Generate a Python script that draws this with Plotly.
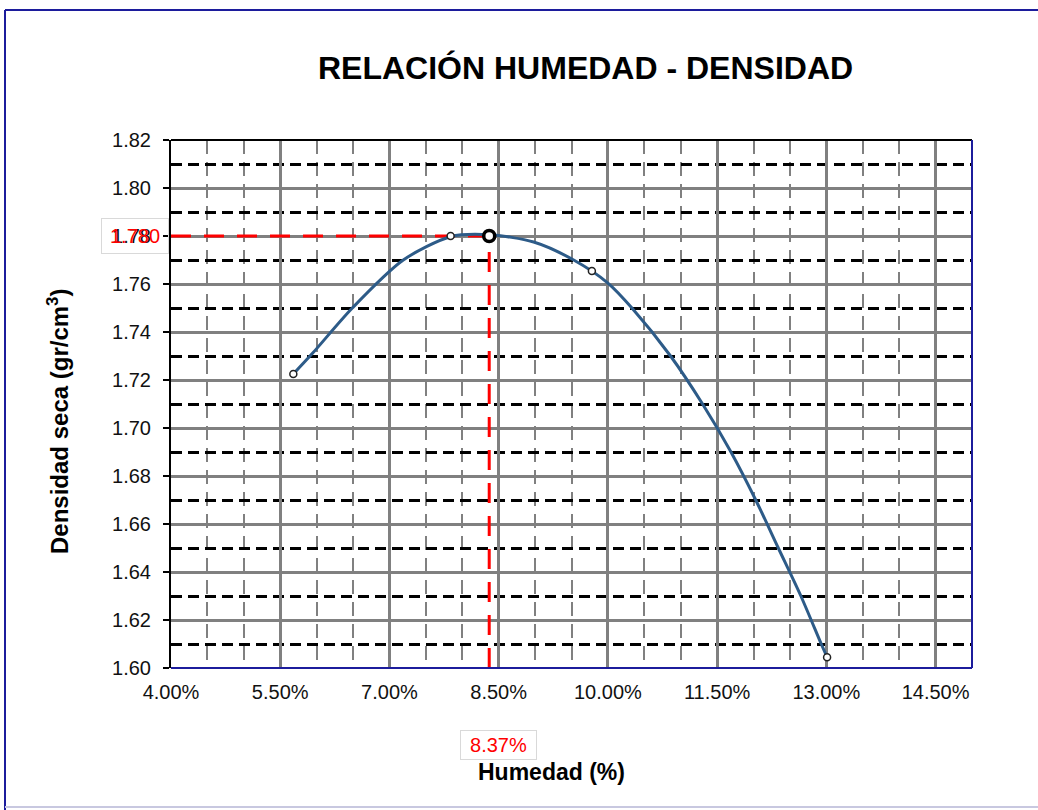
import plotly.graph_objects as go

# ---------------- data ----------------
humedad = [5.68, 7.84, 9.78, 13.01]          # % moisture (test points)
densidad = [1.7225, 1.7800, 1.7654, 1.6045]  # dry density gr/cm3

# trendline
curva_x = [5.68, 5.94, 6.49, 7.19, 7.84, 8.37, 8.98, 9.53, 10.00, 10.33,
           10.86, 11.30, 11.69, 12.03, 12.34, 12.65, 12.93, 13.01]
curva_y = [1.7225, 1.7310, 1.7500, 1.7700, 1.7797, 1.7805, 1.7775, 1.7700, 1.7604, 1.7500,
           1.7300, 1.7100, 1.6900, 1.6700, 1.6500, 1.6300, 1.6100, 1.6045]

hum_opt = 8.37
dens_max = 1.780

x_ticks = [4.0, 5.5, 7.0, 8.5, 10.0, 11.5, 13.0, 14.5]
x_labels = [f"{v:.2f}%" for v in x_ticks]
x_range = [4.0, 15.0]
y_range = [1.60, 1.82]

FONT = "Liberation Sans, Arial, sans-serif"

# plot-area pixel geometry (figure 1038 x 810)
L, R, T, B = 171, 972, 140, 668
W, H = R - L, B - T


def px(xp):
    return (xp - L) / W


def py(yp):
    return (B - yp) / H


fig = go.Figure()

# red dashed guides to the optimum
fig.add_trace(go.Scatter(x=[x_range[0], hum_opt], y=[dens_max, dens_max], mode="lines",
                         line=dict(color="#ff0000", width=3, dash="20px,13px"),
                         hoverinfo="skip", showlegend=False))
fig.add_trace(go.Scatter(x=[hum_opt, hum_opt], y=[y_range[0], dens_max], mode="lines",
                         line=dict(color="#ff0000", width=3, dash="20px,13px"),
                         hoverinfo="skip", showlegend=False))

# fitted curve
fig.add_trace(go.Scatter(x=curva_x, y=curva_y, mode="lines",
                         line=dict(color="#2d5b88", width=3, shape="spline", smoothing=0.8),
                         showlegend=False))

# measured points
fig.add_trace(go.Scatter(x=humedad, y=densidad, mode="markers",
                         marker=dict(symbol="circle", size=7, color="white",
                                     line=dict(color="#222222", width=1.5)),
                         showlegend=False))

# optimum point
fig.add_trace(go.Scatter(x=[hum_opt], y=[dens_max], mode="markers",
                         marker=dict(symbol="circle", size=11, color="white",
                                     line=dict(color="black", width=3.5)),
                         showlegend=False))

fig.update_layout(
    width=1038, height=810,
    margin=dict(l=L, r=1038 - R, t=T, b=810 - B, pad=0),
    paper_bgcolor="white", plot_bgcolor="white",
    font=dict(family=FONT, color="black"),
    showlegend=False,
)

fig.update_xaxes(
    range=x_range, tickmode="array", tickvals=x_ticks, ticktext=x_labels,
    showgrid=True, gridcolor="#808080", gridwidth=3,
    minor=dict(dtick=0.5, tick0=4.0, showgrid=True, gridcolor="#808080",
               gridwidth=2, griddash="14px,8px"),
    showline=False, zeroline=False, ticks="",
    tickfont=dict(family=FONT, size=20, color="#111111"),
    ticklabelstandoff=10,
)
fig.update_yaxes(
    range=y_range, tick0=1.60, dtick=0.02, tickformat=".2f",
    showgrid=True, gridcolor="#808080", gridwidth=3,
    minor=dict(dtick=0.01, tick0=1.60, showgrid=True, gridcolor="black",
               gridwidth=3, griddash="11px,6px"),
    showline=True, linecolor="black", linewidth=2, zeroline=False,
    ticks="outside", ticklen=6, tickcolor="black", tickwidth=2,
    tickfont=dict(family=FONT, size=20, color="#111111"),
    ticklabelstandoff=8,
)

# plot-area border: top black, right & bottom navy
fig.add_shape(type="line", xref="paper", yref="paper", x0=0, x1=1, y0=1, y1=1,
              line=dict(color="black", width=2))
fig.add_shape(type="line", xref="paper", yref="paper", x0=1, x1=1, y0=0, y1=1,
              line=dict(color="#1c1c9c", width=2))
fig.add_shape(type="line", xref="paper", yref="paper", x0=0, x1=1, y0=0, y1=0,
              line=dict(color="#1c1c9c", width=2))

# outer chart border
fig.add_shape(type="line", xref="paper", yref="paper", x0=px(5), x1=px(5), y0=py(10), y1=py(812),
              line=dict(color="#1c1c9c", width=2))
fig.add_shape(type="line", xref="paper", yref="paper", x0=px(5), x1=px(1040), y0=py(10), y1=py(10),
              line=dict(color="#1c1c9c", width=2))
fig.add_shape(type="line", xref="paper", yref="paper", x0=px(5), x1=px(1040), y0=py(807), y1=py(807),
              line=dict(color="#c8c8e0", width=2))

# title
fig.add_annotation(text="<b>RELACIÓN HUMEDAD - DENSIDAD</b>", xref="paper", yref="paper",
                   x=px(585), y=py(68), xanchor="center", yanchor="middle", showarrow=False,
                   font=dict(family=FONT, size=32, color="black"))

# red value labels
fig.add_annotation(text=f"{dens_max:.3f}", xref="paper", yref="y",
                   x=px(135), y=dens_max, xanchor="center", yanchor="middle", showarrow=False,
                   width=64, height=32, bordercolor="#d9d9d9", borderwidth=1, borderpad=1,
                   font=dict(family=FONT, size=20, color="#ff0000"))
fig.add_annotation(text=f"{hum_opt:.2f}%", xref="paper", yref="paper",
                   x=px(498.5), y=py(745), xanchor="center", yanchor="middle", showarrow=False,
                   width=73, height=26, bordercolor="#d9d9d9", borderwidth=1, borderpad=1,
                   font=dict(family=FONT, size=20, color="#ff0000"))

# axis titles
fig.add_annotation(text="<b>Humedad (%)</b>", xref="paper", yref="paper",
                   x=px(551), y=py(772), xanchor="center", yanchor="middle", showarrow=False,
                   font=dict(family=FONT, size=23, color="black"))
fig.add_annotation(text="<b>Densidad seca (gr/cm<sup>3</sup>)</b>", xref="paper", yref="paper",
                   x=px(58), y=py(421), xanchor="center", yanchor="middle", showarrow=False,
                   textangle=-90, font=dict(family=FONT, size=24, color="black"))

fig.write_html("out.html", config={"displayModeBar": False},
               post_script="document.body.style.margin='0px';")
